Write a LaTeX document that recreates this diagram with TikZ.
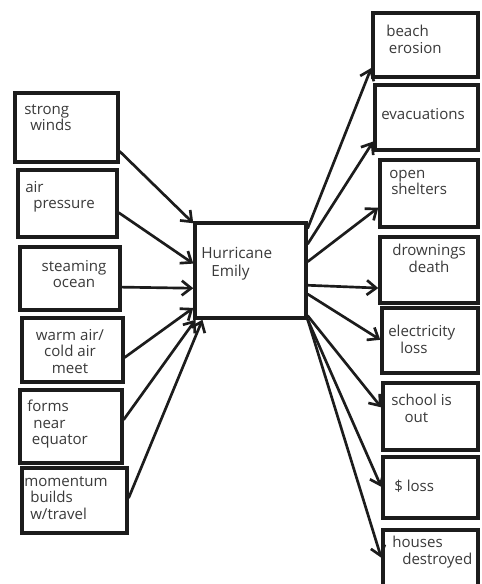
\documentclass[tikz,border=0pt]{standalone}
\usepackage{fontspec}
\setmainfont{Open Sans}
\usetikzlibrary{arrows.meta,calc,fit}
\definecolor{ink}{HTML}{1C1C1C}
\definecolor{pencil}{HTML}{3A3A3A}
\tikzset{
  box/.style={draw=ink, line width=2.6pt, inner sep=0pt, rectangle},
  lbl/.style={inner sep=0pt, anchor=north west, align=left, text=pencil,
    font=\fontsize{11.3}{12.3}\selectfont},
  clbl/.style={lbl, align=center, anchor=north},
  arr/.style={draw=ink, line width=2pt, line cap=round,
    -{Straight Barb[length=7pt,width=11pt,line width=2pt]}},
}
\begin{document}
\begin{tikzpicture}[x=0.75pt,y=-0.75pt]
\useasboundingbox (0,0) rectangle (481,584);
\clip (0,0) rectangle (481,584);
\fill[white] (0,0) rectangle (481,584);
% left boxes
\node[box, fit={(15,93) (118,162)}] (l1) {};
\node[box, fit={(18,170) (117,237)}] (l2) {};
\node[box, fit={(20,247) (120,310)}] (l3) {};
\node[box, fit={(22,318) (123,382)}] (l4) {};
\node[box, fit={(20,390) (122,463)}] (l5) {};
\node[box, fit={(22,468) (127,533)}] (l6) {};
% center
\node[box, fit={(195,223) (306,318)}] (c) {};
% right boxes
\node[box, fit={(373,13) (478,77)}] (r1) {};
\node[box, fit={(375,85) (478,150)}] (r2) {};
\node[box, fit={(380,160) (478,227)}] (r3) {};
\node[box, fit={(380,237) (478,303)}] (r4) {};
\node[box, fit={(382,308) (478,373)}] (r5) {};
\node[box, fit={(383,383) (478,450)}] (r6) {};
\node[box, fit={(383,457) (478,518)}] (r7) {};
\node[box, fit={(383,530) (478,592)}] (r8) {};
% labels
\node[lbl] (t1) at (24,104) {strong\\\hspace*{4.5pt}winds};
\node[lbl] (t2) at (25,181) {air\\\hspace*{6pt}pressure};
\node[clbl] (t3) at (74,260) {steaming\\ocean};
\node[clbl] (t4) at (70,329) {warm air/\\cold air\\meet};
\node[lbl] (t5) at (27,400) {forms\\\hspace*{4.5pt}near\\\hspace*{3.5pt}equator};
\node[lbl] (t6) at (24,476) {momentum\\\hspace*{4.5pt}builds\\\hspace*{4.5pt}w/travel};
\node[lbl, font=\fontsize{11.5}{13.5}\selectfont] (tc) at (201,247) {Hurricane\\\hspace*{7.5pt}Emily};
\node[lbl] (s1) at (386,25) {beach\\\hspace*{2pt}erosion};
\node[lbl] (s2) at (381,108) {evacuations};
\node[lbl] (s3) at (389,170) {open\\\hspace*{1.5pt}shelters};
\node[clbl] (s4) at (429,244) {drownings\\death};
\node[lbl] (s5) at (388,325) {electricity\\\hspace*{9pt}loss};
\node[lbl] (s6) at (391,394) {school is\\\hspace*{10pt}out};
\node[lbl] (s7) at (394,480) {\$ loss};
\node[lbl] (s8) at (392,536) {houses\\\hspace*{7.5pt}destroyed};
% left arrows
\draw[arr] ($(l1.north east)!0.83!(l1.south east)$) -- ($(c.north west)!0.02!(c.south west)$);
\draw[arr] ($(l2.north east)!0.63!(l2.south east)$) -- ($(c.north west)!0.43!(c.south west)$);
\draw[arr] ($(l3.north east)!0.63!(l3.south east)$) -- ($(c.north west)!0.68!(c.south west)$);
\draw[arr] ($(l4.north east)!0.61!(l4.south east)$) -- ($(c.north west)!0.88!(c.south west)$);
\draw[arr] ($(l5.north east)!0.41!(l5.south east)$) -- ($(c.south west)!0.02!(c.south east)$);
\draw[arr] ($(l6.north east)!0.46!(l6.south east)$) -- ($(c.south west)!0.08!(c.south east)$);
% right arrows
\draw[arr] ($(c.north east)!0.07!(c.south east)$) -- ($(r1.north west)!0.84!(r1.south west)$);
\draw[arr] ($(c.north east)!0.23!(c.south east)$) -- ($(r2.north west)!0.85!(r2.south west)$);
\draw[arr] ($(c.north east)!0.41!(c.south east)$) -- ($(r3.north west)!0.70!(r3.south west)$);
\draw[arr] ($(c.north east)!0.65!(c.south east)$) -- ($(r4.north west)!0.76!(r4.south west)$);
\draw[arr] ($(c.north east)!0.74!(c.south east)$) -- ($(r5.north west)!0.49!(r5.south west)$);
\draw[arr] ($(c.north east)!0.96!(c.south east)$) -- ($(r6.north west)!0.37!(r6.south west)$);
\draw[arr] (c.south east) -- ($(r7.north west)!0.49!(r7.south west)$);
\draw[arr] (c.south east) -- ($(r8.north west)!0.45!(r8.south west)$);
\end{tikzpicture}
\end{document}
